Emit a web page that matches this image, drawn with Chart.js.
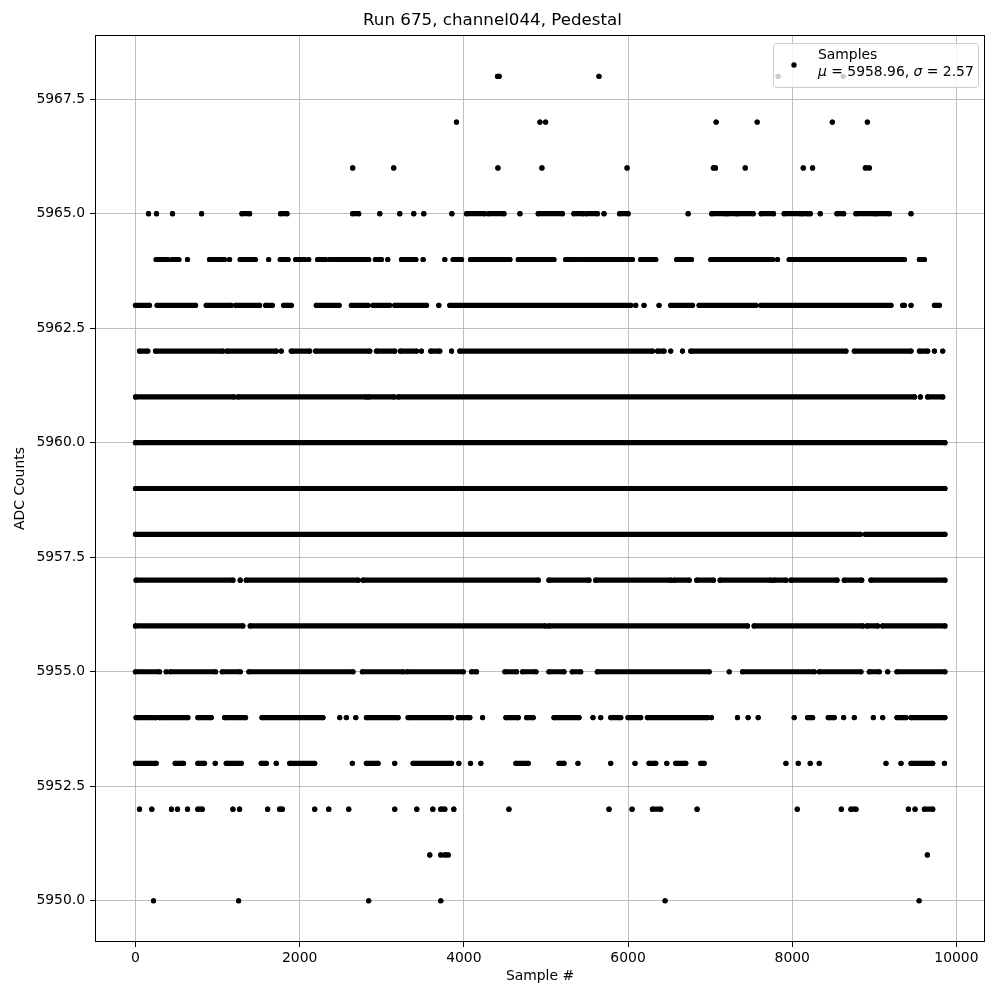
<!DOCTYPE html>
<html>
<head>
<meta charset="utf-8">
<title>Run 675, channel044, Pedestal</title>
<script src="https://cdn.jsdelivr.net/npm/chart.js@4.4.0/dist/chart.umd.min.js"></script>
<style>
  body { margin: 0; background: #fff; }
</style>
</head>
<body>
<canvas id="pedestal-chart" width="1000" height="1000"></canvas>
<script>
// runs of samples: [first sample #, last sample #] at each ADC level
const lv5968 = [[4410, 4430], [5646, 5646], [7829, 7829], [8622, 8622]];
const lv5967 = [[3910, 3910], [4927, 4927], [4996, 4996], [7073, 7073], [7573, 7573], [8488, 8488], [8915, 8915]];
const lv5966 = [[2646, 2646], [3146, 3146], [4415, 4415], [4951, 4951], [5988, 5988], [7040, 7065], [7427, 7427],
  [8134, 8134], [8248, 8248], [8890, 8939]];
const lv5965 = [[159, 159], [256, 256], [451, 451], [805, 805], [1297, 1390], [1768, 1845], [2646, 2719], [2976, 2976],
  [3219, 3219], [3390, 3390], [3512, 3512], [3854, 3854], [4033, 4250], [4300, 4488], [4683, 4683], [4906, 5200],
  [5341, 5450], [5490, 5626], [5707, 5707], [5898, 6000], [6732, 6732], [7020, 7180], [7210, 7320], [7340, 7524],
  [7622, 7772], [7902, 8100], [8130, 8187], [8219, 8219], [8341, 8341], [8545, 8626], [8776, 9000], [9030, 9183],
  [9447, 9447]];
const lv5964 = [[252, 394], [447, 528], [634, 634], [902, 1085], [1146, 1146], [1276, 1459], [1622, 1622], [1764, 1858],
  [1951, 2061], [2110, 2110], [2219, 2317], [2366, 2841], [2923, 2996], [3073, 3073], [3240, 3415], [3504, 3504],
  [3768, 3768], [3870, 3972], [4081, 4561], [4663, 5097], [5240, 5420], [5460, 6053], [6154, 6337], [6593, 6772],
  [7008, 7760], [7821, 7821], [7963, 9366], [9549, 9610]];
const lv5963 = [[0, 171], [264, 732], [862, 1167], [1220, 1512], [1585, 1667], [1805, 1898], [2203, 2480], [2630, 2833],
  [2894, 3097], [3158, 3545], [3695, 3695], [3829, 6033], [6093, 6093], [6195, 6195], [6378, 6378], [6520, 6785],
  [6866, 7557], [7618, 9203], [9345, 9366], [9447, 9447], [9732, 9793]];
const lv5962 = [[49, 150], [244, 1065], [1114, 1715], [1776, 1776], [1898, 2122], [2195, 2854], [2935, 3158],
  [3227, 3423], [3484, 3484], [3597, 3707], [3850, 3850], [3951, 6297], [6358, 6439], [6520, 6520], [6663, 6663],
  [6764, 8654], [8756, 9447], [9549, 9650], [9732, 9732], [9833, 9833]];
const lv5961 = [[0, 1200], [1250, 2810], [2845, 3150], [3200, 9490], [9561, 9561], [9650, 9833]];
const lv5960 = [[0, 9860]];
const lv5959 = [[0, 9860]];
const lv5958 = [[0, 8830], [8890, 9860]];
const lv5957 = [[8, 1187], [1276, 1276], [1350, 2711], [2772, 4906], [5037, 5524], [5606, 6520], [6561, 6744],
  [6837, 7040], [7122, 7740], [7780, 7923], [7984, 8545], [8634, 8846], [8959, 9860]];
const lv5956 = [[0, 1308], [1398, 4990], [5037, 7455], [7536, 8858], [8910, 9040], [9101, 9860]];
const lv5955 = [[0, 293], [374, 374], [423, 976], [1057, 1276], [1382, 2650], [2764, 3260], [3308, 3992], [4093, 4154],
  [4500, 4642], [4715, 4878], [5037, 5220], [5321, 5423], [5626, 6988], [7232, 7232], [7394, 8268], [8329, 8837],
  [8939, 9060], [9163, 9163], [9276, 9860]];
const lv5954 = [[8, 252], [293, 638], [760, 923], [1085, 1341], [1541, 2284], [2488, 2488], [2569, 2569], [2683, 2683],
  [2813, 3199], [3321, 3850], [3931, 4073], [4228, 4228], [4512, 4663], [4764, 4845], [5098, 5403], [5573, 5573],
  [5667, 5667], [5789, 5911], [6000, 6154], [6236, 6967], [7016, 7016], [7333, 7333], [7463, 7463], [7585, 7585],
  [8024, 8024], [8187, 8248], [8439, 8512], [8626, 8626], [8756, 8756], [8988, 8988], [9102, 9102], [9276, 9386],
  [9447, 9860]];
const lv5953 = [[0, 252], [484, 585], [760, 841], [972, 972], [1106, 1289], [1532, 1594], [1715, 1715], [1878, 2183],
  [2642, 2642], [2813, 2955], [3158, 3158], [3382, 3850], [3939, 3939], [4081, 4081], [4207, 4207], [4634, 4784],
  [5159, 5220], [5390, 5390], [5789, 5789], [6085, 6085], [6256, 6337], [6472, 6472], [6581, 6703], [6886, 6927],
  [7923, 7923], [8073, 8073], [8219, 8219], [8329, 8329], [9142, 9142], [9325, 9325], [9447, 9711], [9854, 9854]];
const lv5952 = [[49, 49], [199, 199], [439, 439], [512, 512], [634, 634], [760, 813], [1187, 1187], [1268, 1268],
  [1610, 1610], [1756, 1789], [2183, 2183], [2354, 2354], [2598, 2598], [3158, 3158], [3427, 3427], [3622, 3622],
  [3719, 3768], [3878, 3878], [4549, 4549], [5768, 5768], [6049, 6049], [6297, 6398], [6841, 6841], [8061, 8061],
  [8598, 8598], [8715, 8776], [9415, 9415], [9496, 9496], [9610, 9711]];
const lv5951 = [[3585, 3585], [3719, 3719], [3768, 3809], [9646, 9646]];
const lv5950 = [[220, 220], [1256, 1256], [2841, 2841], [3719, 3719], [6451, 6451], [9545, 9545]];

const adcLevels = [5950, 5951, 5952, 5953, 5954, 5955, 5956, 5957, 5958, 5959,
  5960, 5961, 5962, 5963, 5964, 5965, 5966, 5967, 5968];
const levelRuns = [lv5950, lv5951, lv5952, lv5953, lv5954, lv5955, lv5956, lv5957, lv5958, lv5959,
  lv5960, lv5961, lv5962, lv5963, lv5964, lv5965, lv5966, lv5967, lv5968];

const xTicks = [0, 2000, 4000, 6000, 8000, 10000];
const yTicks = [5950, 5952.5, 5955, 5957.5, 5960, 5962.5, 5965, 5967.5];

const meanValue = 5958.96;
const sigmaValue = 2.57;

// each run becomes a short stroke through its dots, nulls break it up
let points = [];
adcLevels.forEach((level, i) => {
  levelRuns[i].forEach(([a, b]) => {
    points.push({ x: a, y: level });
    if (b !== a) points.push({ x: b, y: level });
    points.push({ x: b, y: null });
  });
});

Chart.defaults.font.family = "'DejaVu Sans', sans-serif";
Chart.defaults.color = "#000";

const frameAndLegend = {
  id: "frameAndLegend",
  afterDraw(chart) {
    const ctx = chart.ctx;
    const a = chart.chartArea;
    ctx.save();
    ctx.strokeStyle = "#000";
    ctx.lineWidth = 1;
    ctx.strokeRect(Math.round(a.left) + 0.5, Math.round(a.top) + 0.5,
      Math.round(a.right - a.left) - 1, Math.round(a.bottom - a.top) - 1);

    // legend box, upper right like matplotlib
    ctx.beginPath();
    ctx.roundRect(773.5, 43.5, 205, 44, 3);
    ctx.fillStyle = "rgba(255,255,255,0.8)";
    ctx.fill();
    ctx.strokeStyle = "#cccccc";
    ctx.stroke();

    ctx.beginPath();
    ctx.arc(794, 65, 2.7, 0, Math.PI * 2);
    ctx.fillStyle = "#000";
    ctx.fill();

    ctx.textBaseline = "alphabetic";
    ctx.textAlign = "left";
    ctx.font = "13.9px 'DejaVu Sans'";
    ctx.fillText("Samples", 818, 59);

    let x = 818;
    const parts = [
      ["italic", "\u03bc"], ["normal", " = " + meanValue.toFixed(2) + ", "],
      ["italic", "\u03c3"], ["normal", " = " + sigmaValue.toFixed(2)],
    ];
    parts.forEach(([style, txt]) => {
      ctx.font = style + " 13.9px 'DejaVu Sans'";
      ctx.fillText(txt, x, 76);
      x += ctx.measureText(txt).width;
    });
    ctx.restore();
  },
};

new Chart(document.getElementById("pedestal-chart").getContext("2d"), {
  type: "scatter",
  data: {
    datasets: [
      {
        label: "Samples",
        data: points,
        showLine: true,
        spanGaps: false,
        borderColor: "#000",
        borderWidth: 5.2,
        borderCapStyle: "round",
        backgroundColor: "#000",
        pointRadius: 2.6,
        pointBorderWidth: 0,
        pointBackgroundColor: "#000",
      },
    ],
  },
  options: {
    responsive: false,
    animation: false,
    layout: { padding: { left: 0, right: 15, top: 0, bottom: 0 } },
    plugins: {
      legend: { display: false },
      tooltip: { enabled: false },
      title: {
        display: true,
        text: "Run 675, channel044, Pedestal",
        color: "#000",
        font: { size: 16.7, weight: "normal" },
        padding: { top: 11, bottom: 4 },
      },
    },
    scales: {
      x: {
        type: "linear",
        min: -493,
        max: 10348,
        afterFit: (s) => { s.height = 58; },
        afterBuildTicks: (s) => { s.ticks = xTicks.map((v) => ({ value: v })); },
        ticks: {
          padding: 3,
          color: "#000",
          font: { size: 13.9 },
          callback: (v) => String(v),
        },
        grid: { color: "#b0b0b0", lineWidth: 0.8, tickColor: "#000", tickLength: 5, tickWidth: 1 },
        border: { display: false },
        title: { display: true, text: "Sample #", color: "#000", font: { size: 13.9 }, padding: { top: 0, bottom: 15 } },
      },
      y: {
        type: "linear",
        min: 5949.1,
        max: 5968.9,
        afterFit: (s) => { s.width = 95; },
        afterBuildTicks: (s) => { s.ticks = yTicks.map((v) => ({ value: v })); },
        ticks: {
          padding: 5,
          color: "#000",
          font: { size: 13.9 },
          callback: (v) => v.toFixed(1),
        },
        grid: { color: "#b0b0b0", lineWidth: 0.8, tickColor: "#000", tickLength: 5, tickWidth: 1 },
        border: { display: false },
        title: { display: true, text: "ADC Counts", color: "#000", font: { size: 13.9 }, padding: { top: 12, bottom: 0 } },
      },
    },
  },
  plugins: [frameAndLegend],
});
</script>
</body>
</html>
